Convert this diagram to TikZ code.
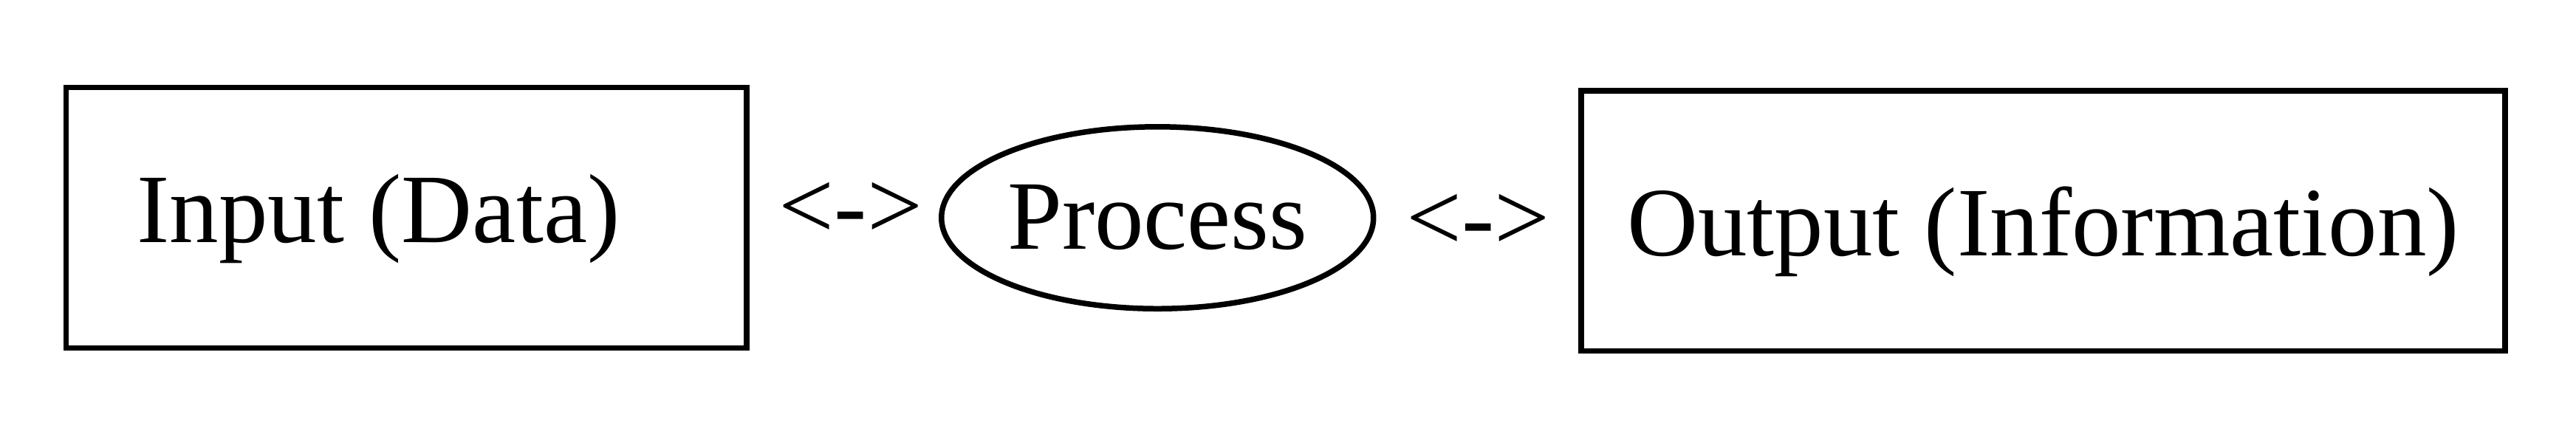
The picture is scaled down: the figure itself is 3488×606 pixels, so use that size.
\documentclass[tikz,border=0pt]{standalone}
\usepackage{fontspec}
\setmainfont{Liberation Serif}
\usetikzlibrary{shapes.geometric}
\begin{document}
\begin{tikzpicture}[x=0.1pt,y=-0.1pt,
  lbl/.style={font=\fontsize{13.3pt}{16pt}\selectfont, inner sep=0pt},
  boxnode/.style={lbl, draw=black, line width=0.75pt, rectangle, text depth=0pt},
  ellnode/.style={lbl, draw=black, line width=0.75pt, ellipse, text depth=0pt},
  linktext/.style={lbl, anchor=base}]
  \useasboundingbox (0,0) rectangle (3488,606);
  \node[boxnode, minimum width=92.15pt, minimum height=35.3pt, text height=6.6pt] (input) at (550.25,295) {Input (Data)\kern7.55pt\relax};
  \node[ellnode, minimum width=58.5pt, minimum height=24.65pt, text height=8.4pt] (process) at (1567.25,295) {Process};
  \node[boxnode, minimum width=125.1pt, minimum height=35.25pt, text height=9.35pt] (output) at (2766.5,299.25) {Output (Information)};
  \node[linktext] (link1) at (1152,323) {<->};
  \node[linktext] (link2) at (2001.5,339) {<->};
\end{tikzpicture}
\end{document}
